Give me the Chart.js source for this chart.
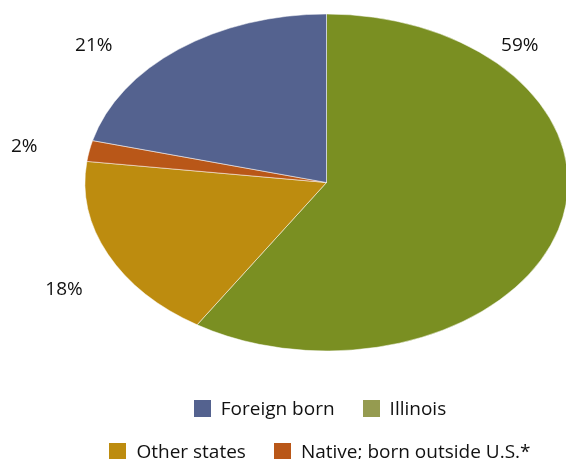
<!DOCTYPE html>
<html>
<head>
<meta charset="utf-8">
<script src="https://cdn.jsdelivr.net/npm/chart.js@4.4.0/dist/chart.umd.min.js"></script>
<style>
  body { margin: 0; background: #fff; }
  #wrap { position: relative; width: 566px; height: 459px; overflow: hidden; }
  #legend { position: absolute; left: 74px; right: 0; top: 0; font-family: "Open Sans", sans-serif; font-size: 19px; color: #111; }
  .row { position: absolute; left: 0; right: 0; display: flex; justify-content: center; gap: 28px; height: 24px; align-items: center; white-space: nowrap; }
  .item { display: flex; align-items: center; }
  .box { width: 17px; height: 17px; margin-right: 10px; }
</style>
</head>
<body>
<div id="wrap">
  <canvas id="pieChart" width="566" height="459"></canvas>
  <div id="legend"></div>
</div>
<script>
// Données (ordre des parts, en partant du haut, sens horaire)
const categories = ['Illinois', 'Other states', 'Native; born outside U.S.*', 'Foreign born'];
const shares = [59, 18, 2, 21];
const sliceColors = ['#7a8f22', '#bd8c0f', '#b95718', '#54628f'];

// Légende : deux lignes comme l'original
const legendRows = [
    [['Foreign born', '#54628f'], ['Illinois', '#959b50']],
    [['Other states', '#bd8c0f'], ['Native; born outside U.S.*', '#b95718']]
];

// Géométrie de l'ellipse
const RADIUS = 241.5;
const Y_SCALE = 168.5 / 241.5;

// Placement des étiquettes : fraction de l'angle de la part, et distance relative
const labelFrac = [0.21, 0.42, 0.36, 0.34];
const labelDist = [1.14, 1.26, 1.27, 1.26];

const ellipsePlugin = {
    id: 'ellipse',
    beforeDatasetsDraw(chart) {
        const arc = chart.getDatasetMeta(0).data[0];
        const ctx = chart.ctx;
        ctx.save();
        ctx.translate(arc.x, arc.y);
        ctx.scale(1, Y_SCALE);
        ctx.translate(-arc.x, -arc.y);
    },
    afterDatasetsDraw(chart) {
        chart.ctx.restore();
    }
};

const labelPlugin = {
    id: 'pctLabels',
    afterDraw(chart) {
        const ctx = chart.ctx;
        const meta = chart.getDatasetMeta(0);
        ctx.save();
        ctx.font = '19px "Open Sans", sans-serif';
        ctx.fillStyle = '#111';
        ctx.textAlign = 'center';
        ctx.textBaseline = 'middle';
        meta.data.forEach((arc, i) => {
            const a = arc.startAngle + labelFrac[i] * (arc.endAngle - arc.startAngle);
            const r = arc.outerRadius * labelDist[i];
            const x = arc.x + Math.cos(a) * r;
            const y = arc.y + Math.sin(a) * r * Y_SCALE;
            ctx.fillText(shares[i] + '%', x, y);
        });
        ctx.restore();
    }
};

const ctx = document.getElementById('pieChart').getContext('2d');
const pieChart = new Chart(ctx, {
    type: 'pie',
    data: {
        labels: categories,
        datasets: [{
            data: shares,
            backgroundColor: sliceColors,
            borderColor: 'rgba(255, 255, 255, 0.6)',
            borderWidth: 1,
            radius: RADIUS
        }]
    },
    options: {
        responsive: false,
        animation: false,
        layout: { padding: { left: 87, right: 0, top: 0, bottom: 94 } },
        plugins: {
            legend: { display: false },
            tooltip: { enabled: false }
        }
    },
    plugins: [ellipsePlugin, labelPlugin]
});

// Construction de la légende
const legend = document.getElementById('legend');
const rowTops = [396, 439];
legendRows.forEach((row, r) => {
    const div = document.createElement('div');
    div.className = 'row';
    div.style.top = rowTops[r] + 'px';
    row.forEach(([name, color]) => {
        div.innerHTML += `<span class="item"><span class="box" style="background:${color}"></span>${name}</span>`;
    });
    legend.appendChild(div);
});
</script>
</body>
</html>
